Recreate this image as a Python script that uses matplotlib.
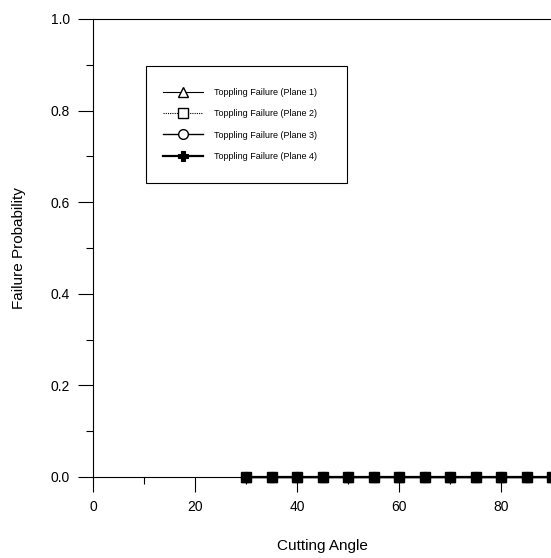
import matplotlib
matplotlib.use("Agg")
import matplotlib.pyplot as plt
from matplotlib.ticker import MultipleLocator
from matplotlib.patches import Rectangle

plt.rcParams['font.family'] = ['Liberation Sans', 'DejaVu Sans']

angles = [30, 35, 40, 45, 50, 55, 60, 65, 70, 75, 80, 85, 90]
plane1 = [0.0] * 13
plane2 = [0.0] * 13
plane3 = [0.0] * 13
plane4 = [0.0] * 13
labels = ["Toppling Failure (Plane 1)", "Toppling Failure (Plane 2)",
          "Toppling Failure (Plane 3)", "Toppling Failure (Plane 4)"]

W, H = 551, 558
fig = plt.figure(figsize=(W/100, H/100), dpi=100)
ax = fig.add_axes([93/W, 1-477/H, 458/W, 458/H])

ax.plot(angles, plane1, color='black', lw=0.8, marker='^', ms=7, mfc='white', mec='black', mew=1.0, label=labels[0], clip_on=False, zorder=3)
ax.plot(angles, plane2, color='black', lw=0.8, ls=(0, (1, 1)), marker='s', ms=7, mfc='white', mec='black', mew=1.0, label=labels[1], clip_on=False, zorder=3)
ax.plot(angles, plane3, color='black', lw=1.0, marker='o', ms=7, mfc='white', mec='black', mew=1.0, label=labels[2], clip_on=False, zorder=3)
ax.plot(angles, plane4, color='black', lw=1.6, marker='P', ms=7, mfc='black', mec='black', mew=0.8, label=labels[3], clip_on=False, zorder=4)
# in-plot markers appear as dark filled squares
ax.plot(angles, plane1, ls='none', marker='s', ms=6, color='black', clip_on=False, zorder=5)

ax.set_xlim(0, 458/5.1)
ax.set_ylim(0, 1.0)
ax.xaxis.set_major_locator(MultipleLocator(20))
ax.xaxis.set_minor_locator(MultipleLocator(10))
ax.yaxis.set_major_locator(MultipleLocator(0.2))
ax.yaxis.set_minor_locator(MultipleLocator(0.1))
ax.yaxis.set_major_formatter(matplotlib.ticker.FormatStrFormatter('%.1f'))
ax.tick_params(axis='both', which='major', direction='out', length=10.5, width=0.8, labelsize=10, pad=6)
ax.tick_params(axis='both', which='minor', direction='out', length=5, width=0.8)
ax.tick_params(top=False, right=False)
ax.spines['right'].set_visible(False)
for s in ['left', 'bottom', 'top']:
    ax.spines[s].set_linewidth(0.8)

ax.set_xlabel("Cutting Angle", fontsize=11, labelpad=18)
ax.set_ylabel("Failure Probability", fontsize=11, labelpad=18)

# legend frame drawn explicitly (pixel box 146..347 x 66..183)
x0, x1 = (146-93)/458, (347-93)/458
y1, y0 = (477-66)/458, (477-183)/458
ax.add_patch(Rectangle((x0, y0), x1-x0, y1-y0, transform=ax.transAxes,
                       fill=True, facecolor='white', edgecolor='black', lw=0.8, zorder=6))
leg = ax.legend(loc='center left', bbox_to_anchor=((163-93)/458, (y0+y1)/2),
                borderaxespad=0, borderpad=0, fontsize=6.5, frameon=False,
                handlelength=4.4, labelspacing=1.35, handletextpad=1.3)
leg.set_zorder(7)

fig.savefig("out.png", dpi=100)
